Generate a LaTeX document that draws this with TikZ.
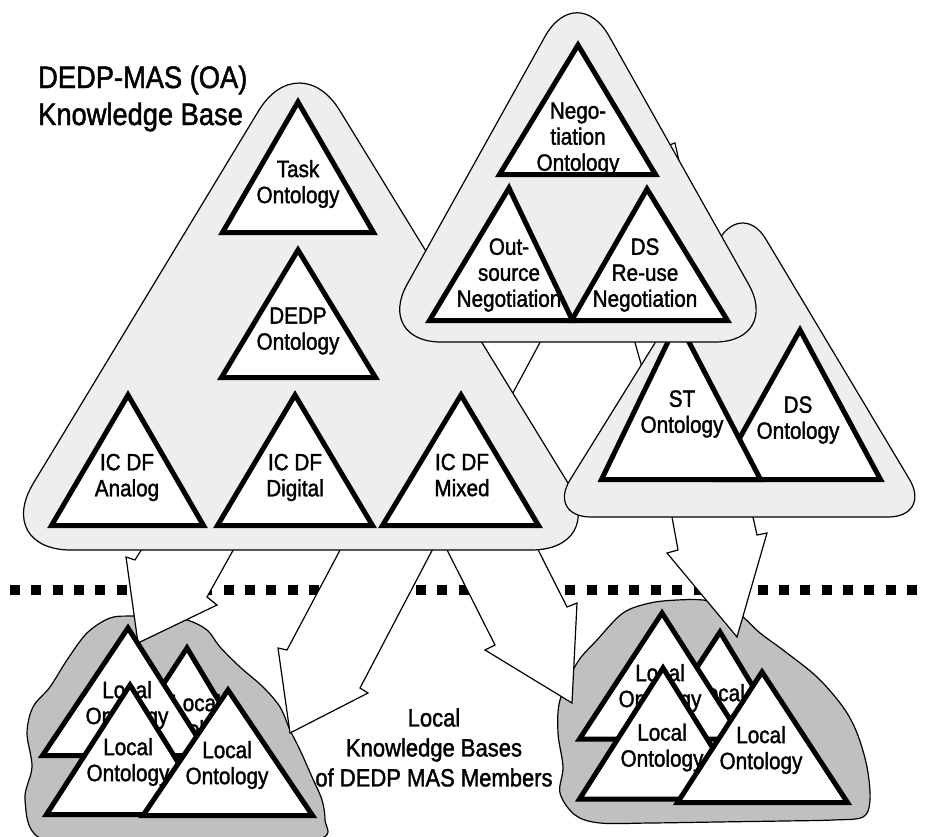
\documentclass[tikz,border=0pt]{standalone}
\usepackage{fontspec}
\setmainfont{Liberation Sans}[FakeStretch=0.88, FakeBold=1.5]
\definecolor{panel}{RGB}{238,238,238}
\definecolor{blobgray}{RGB}{192,192,192}
\tikzset{
  thinline/.style={line width=1.2pt},
  panelshape/.style={thinline, draw=black, fill=panel},
  blobshape/.style={thinline, draw=black, fill=blobgray},
  fatarrow/.style={thinline, draw=black, fill=white, line join=miter},
  onto/.style={line width=5pt, draw=black, fill=white, line join=miter},
  ontolabel/.style={align=center, inner sep=0pt, font=\fontsize{23.5}{26}\selectfont},
  titlelabel/.style={anchor=base west, inner sep=0pt, font=\fontsize{31}{37}\selectfont},
}
\newcommand\ontotri[5]{\filldraw[onto] (#1,#2) -- (#5,#3) -- (#4,#3) -- cycle;}
\begin{document}
\begin{tikzpicture}[x=1pt,y=-1pt]
\useasboundingbox (0,0) rectangle (925,836);
\clip (0,0) rectangle (925,836);

% dotted separator
\draw[line width=10pt, dash pattern=on 10pt off 11.36pt] (10,590) -- (925,590);

% local knowledge base blobs
\filldraw[blobshape] plot[smooth cycle, tension=0.55] coordinates {
 (132,616) (110,618) (87,633) (67,660) (50,687) (33,707) (27,733) (32,767) (25,800)
 (40,838) (120,848) (250,848) (322,838) (325,820) (322,800) (312,777) (300,750)
 (290,730) (280,707) (263,687) (240,667) (220,647) (207,630) (187,620) (160,616)};
\filldraw[blobshape] plot[smooth cycle, tension=0.55] coordinates {
 (577,663) (597,640) (623,613) (650,603) (677,600) (703,600) (725,605) (743,617)
 (760,633) (783,650) (817,677) (843,707) (857,733) (867,767) (870,800) (863,817)
 (833,820) (783,821) (717,822) (650,823) (600,823) (575,815) (560,793) (563,767)
 (558,733) (560,700)};

% fat arrows (tails hidden under the knowledge bases)
\filldraw[fatarrow] (160,520) -- (135,560) -- (126,557) -- (138,643) -- (217,605) -- (207,597) -- (250,520) -- cycle;
\filldraw[fatarrow] (356,520) -- (287,650) -- (278,648) -- (290,733) -- (368,693) -- (360,688) -- (448,520) -- cycle;
\filldraw[fatarrow] (432,520) -- (495,645) -- (485,650) -- (572,703) -- (577,603) -- (567,607) -- (523,520) -- cycle;
\filldraw[fatarrow] (668,495) -- (678,550) -- (667,553) -- (737,637) -- (767,533) -- (757,535) -- (748,495) -- cycle;
% partly hidden arrows
\filldraw[fatarrow] (552,320) -- (500,417) -- (470,417) -- (470,320) -- cycle;
\filldraw[fatarrow] (630,325) -- (645,378) -- (700,378) -- (700,325) -- cycle;
\filldraw[fatarrow] (655,150) -- (675,143) -- (681,170) -- (655,172) -- cycle;

% DEDP-MAS (OA) knowledge base
\filldraw[panelshape, rounded corners=78pt] (301,550) -- (-7,550) -- (299,44) -- (609,550) -- cycle;
\ontotri{298}{102}{232.5}{222.5}{373.5}
\node[ontolabel] (task) at (298,184) {Task\\Ontology};
\ontotri{298}{250}{377.5}{221.5}{375.5}
\node[ontolabel] (dedp) at (298,331) {DEDP\\Ontology};
\ontotri{128}{395}{525.5}{51.5}{203.5}
\node[ontolabel] (analog) at (127,477.5) {IC DF\\Analog};
\ontotri{295}{395}{525.5}{217.5}{372.5}
\node[ontolabel] (digital) at (295,477.5) {IC DF\\Digital};
\ontotri{461}{395}{525.5}{382.5}{538.5}
\node[ontolabel] (mixed) at (462,475) {IC DF\\Mixed};

% ST / DS knowledge base
\filldraw[panelshape, rounded corners=44pt] (740,517) -- (547,517) -- (743,201) -- (932,517) -- cycle;
\ontotri{800}{330}{479.5}{716.5}{880.5}
\node[ontolabel] (dsont) at (798,420) {DS\\Ontology};
\ontotri{678}{321}{479.5}{601.5}{760.5}
\node[ontolabel] (stont) at (682,414) {ST\\Ontology};

% Negotiation knowledge base
\filldraw[panelshape, rounded corners=66pt] (578,342) -- (375,342) -- (577,-21) -- (781,342) -- cycle;
\ontotri{578}{45}{174.5}{499.5}{655.5}
\node[ontolabel] (nego) at (578,139) {Nego-\\tiation\\Ontology};
\ontotri{509}{188}{320.5}{429.5}{572.5}
\node[ontolabel] (outsrc) at (509,275) {Out-\\source\\Negotiation};
\ontotri{647}{189}{320.5}{571.5}{727.5}
\node[ontolabel] (dsreuse) at (645,275) {DS\\Re-use\\Negotiation};

% local ontologies, left member
\ontotri{187}{648}{775.5}{103.5}{263.5}
\node[ontolabel] (lla) at (196,718) {Local\\Ontology};
\ontotri{128}{628}{755.5}{42.5}{209}
\node[ontolabel] (llb) at (127,705) {Local\\Ontology};
\ontotri{130}{685}{814.5}{46.5}{210.5}
\node[ontolabel] (llc) at (128,762) {Local\\Ontology};
\ontotri{228}{690}{815.5}{143}{312.5}
\node[ontolabel] (lld) at (227,765) {Local\\Ontology};

% local ontologies, right member
\ontotri{720}{632}{757}{638.5}{795.5}
\node[ontolabel] (lra) at (720,708) {Local\\Ontology};
\ontotri{662}{613}{739}{579.5}{742.5}
\node[ontolabel] (lrb) at (660,688) {Local\\Ontology};
\ontotri{663}{668}{799}{579.5}{744.5}
\node[ontolabel] (lrc) at (662,747.5) {Local\\Ontology};
\ontotri{762}{672}{802.5}{677.5}{847.5}
\node[ontolabel] (lrd) at (761,750) {Local\\Ontology};

% labels
\node[align=center, inner sep=0pt, font=\fontsize{25}{30}\selectfont] (members) at (434,747.5) {Local\\Knowledge Bases\\of DEDP MAS Members};
\node[titlelabel] (title1) at (38,88) {DEDP-MAS (OA)};
\node[titlelabel] (title2) at (38,125) {Knowledge Base};
\end{tikzpicture}
\end{document}
